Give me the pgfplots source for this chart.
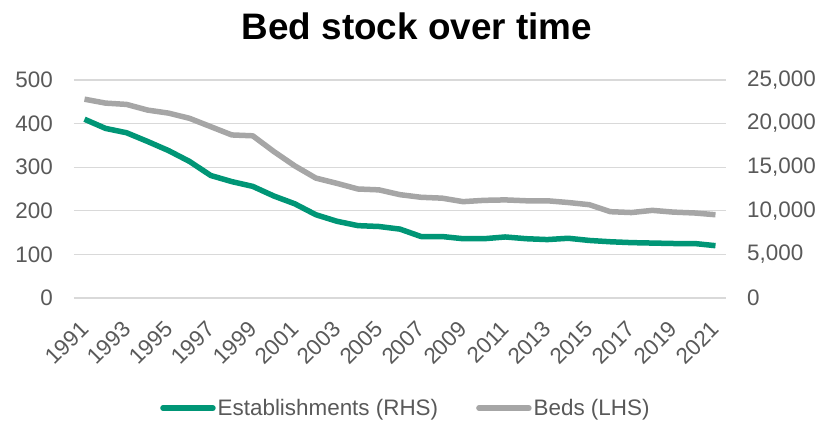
\documentclass[border=0pt]{standalone}
\usepackage{pgfplots}
\pgfplotsset{compat=1.18}
\usepackage{fontspec}
\setmainfont{Liberation Sans}

\definecolor{estgreen}{RGB}{0,150,118}
\definecolor{bedgray}{RGB}{166,166,166}
\definecolor{txtgray}{RGB}{89,89,89}
\definecolor{gridgray}{RGB}{217,217,217}

\begin{document}
\begin{tikzpicture}
\pgfplotsset{
  base/.style={
    scale only axis,
    width=652bp, height=218bp,
    xmin=1990.5, xmax=2021.5,
    axis line style={draw=none},
    major tick length=0pt,
    tick label style={font=\fontsize{22.5}{25}\selectfont, text=txtgray},
    /pgf/number format/assume math mode=true,
    scaled y ticks=false,
  }
}
% left axis: establishments
\begin{axis}[
  base,
  ymin=0, ymax=500,
  ytick={0,100,...,500},
  ymajorgrids,
  grid style={gridgray, line width=1.3bp},
  xtick={1991,1993,...,2021},
  xticklabel style={rotate=45, anchor=east, inner sep=0pt,
    /pgf/number format/1000 sep={}},
  xticklabel shift=27bp,
  yticklabel style={anchor=east, inner sep=0pt},
  yticklabel shift=21bp,
]
\addplot[estgreen, line width=5.5bp, line join=round] coordinates {
  (1991,410) (1992,389) (1993,379) (1994,359) (1995,338) (1996,313)
  (1997,281) (1998,267) (1999,256) (2000,234) (2001,216) (2002,191)
  (2003,176) (2004,166) (2005,164) (2006,158) (2007,141) (2008,141)
  (2009,136) (2010,136) (2011,140) (2012,136) (2013,134) (2014,137)
  (2015,132) (2016,129) (2017,127) (2018,126) (2019,125) (2020,125)
  (2021,120)
};
\end{axis}
% right axis: beds
\begin{axis}[
  base,
  ymin=0, ymax=25000,
  ytick={0,5000,...,25000},
  xtick=\empty,
  axis y line*=right,
  yticklabel style={anchor=west, inner sep=0pt,
    /pgf/number format/1000 sep={,}},
  yticklabel shift=21bp,
  legend style={at={(0.509,-0.505)}, anchor=center, draw=none,
    legend columns=2, font=\fontsize{22.5}{25}\selectfont, text=txtgray,
    /tikz/every even column/.append style={column sep=36bp},
    inner sep=0pt},
  legend image code/.code={
    \draw[#1, line cap=round] (0bp,0bp) -- (50bp,0bp);
  },
]
\addlegendimage{estgreen, line width=5.5bp}
\addlegendentry{Establishments (RHS)}
\addplot[bedgray, line width=5.5bp, line join=round] coordinates {
  (1991,22800) (1992,22350) (1993,22200) (1994,21550) (1995,21200) (1996,20600)
  (1997,19650) (1998,18700) (1999,18600) (2000,16800) (2001,15150) (2002,13750)
  (2003,13150) (2004,12500) (2005,12400) (2006,11850) (2007,11550) (2008,11450)
  (2009,11050) (2010,11200) (2011,11250) (2012,11150) (2013,11150) (2014,10950)
  (2015,10700) (2016,9900) (2017,9800) (2018,10050) (2019,9850) (2020,9750)
  (2021,9550)
};
\addlegendentry{Beds (LHS)}
\end{axis}
\node[font=\fontsize{37}{40}\selectfont\bfseries, anchor=base]
  at (343bp,258.7bp) {Bed stock over time};
\pgfresetboundingbox
\path[use as bounding box] (-74bp,-123bp) rectangle (749bp,298bp);
\end{tikzpicture}
\end{document}
